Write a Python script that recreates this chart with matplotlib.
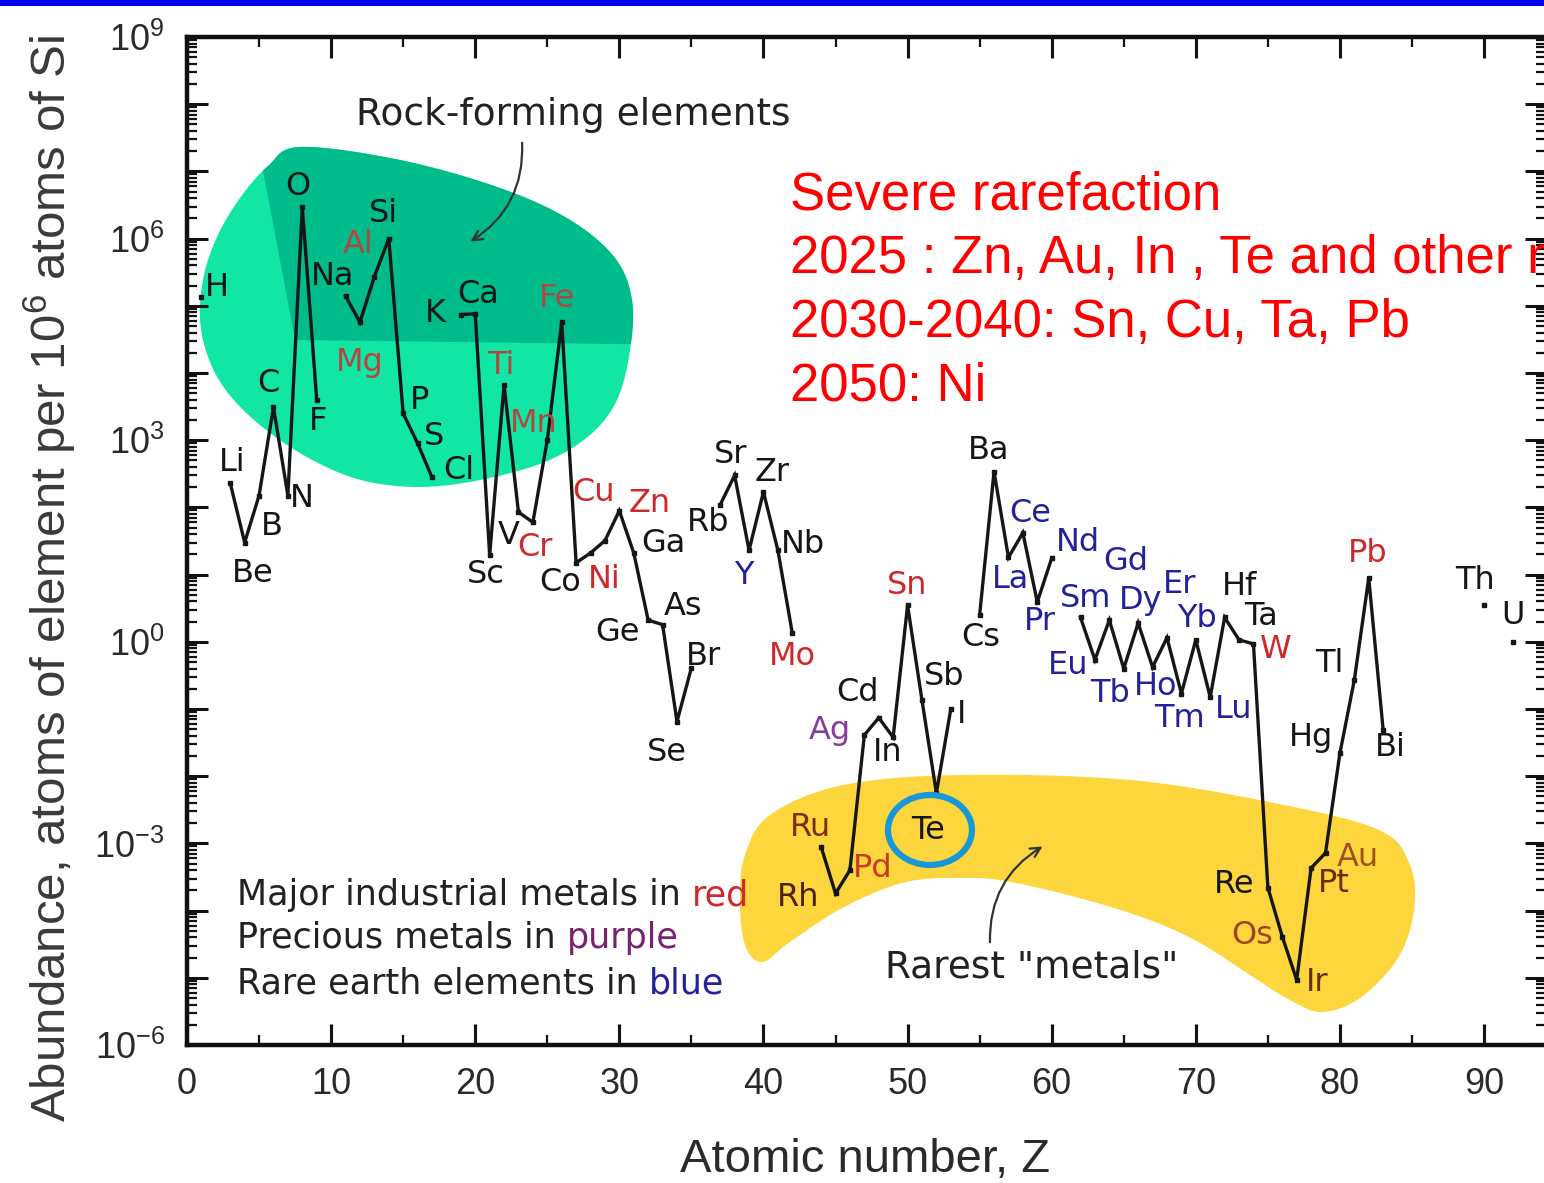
import numpy as np
import matplotlib
matplotlib.use("Agg")
import matplotlib.pyplot as plt
from matplotlib.path import Path
from matplotlib.patches import PathPatch, Ellipse, Rectangle, Polygon
from matplotlib.ticker import (LogLocator, MultipleLocator, FuncFormatter,
                               NullFormatter)
from matplotlib import font_manager

# ---------------------------------------------------------------------------
# Abundance of the elements in the upper continental crust
# (atoms of element per 10^6 atoms of Si)
# ---------------------------------------------------------------------------
symbols = ["H", "Li", "Be", "B", "C", "N", "O", "F",
           "Na", "Mg", "Al", "Si", "P", "S", "Cl",
           "K", "Ca", "Sc", "Ti", "V", "Cr", "Mn", "Fe", "Co", "Ni", "Cu",
           "Zn", "Ga", "Ge", "As", "Se", "Br",
           "Rb", "Sr", "Y", "Zr", "Nb", "Mo",
           "Ru", "Rh", "Pd", "Ag", "Cd", "In", "Sn", "Sb", "Te", "I",
           "Cs", "Ba", "La", "Ce", "Pr", "Nd",
           "Sm", "Eu", "Gd", "Tb", "Dy", "Ho", "Er", "Tm", "Yb", "Lu",
           "Hf", "Ta", "W", "Re", "Os", "Ir", "Pt", "Au", "Hg", "Tl", "Pb", "Bi",
           "Th", "U"]
atomic_number = [1, 3, 4, 5, 6, 7, 8, 9,
                 11, 12, 13, 14, 15, 16, 17,
                 19, 20, 21, 22, 23, 24, 25, 26, 27, 28, 29,
                 30, 31, 32, 33, 34, 35,
                 37, 38, 39, 40, 41, 42,
                 44, 45, 46, 47, 48, 49, 50, 51, 52, 53,
                 55, 56, 57, 58, 59, 60,
                 62, 63, 64, 65, 66, 67, 68, 69, 70, 71,
                 72, 73, 74, 75, 76, 77, 78, 79, 80, 81, 82, 83,
                 90, 92]
abundance = [1.35e5, 230, 30, 150, 3100, 150, 2.95e6, 4000,
             1.4e5, 5.7e4, 2.7e5, 1.0e6, 2500, 900, 280,
             7.4e4, 7.6e4, 19.5, 6600, 85, 60, 1000, 5.7e4, 15, 21, 32,
             89, 21, 2.1, 1.8, 0.065, 0.41,
             110, 300, 23, 170, 23, 1.35,
             8.9e-4, 1.8e-4, 4.0e-4, 0.041, 0.074, 0.038, 3.5, 0.135, 5.6e-3, 0.10,
             2.5, 340, 18, 42, 3.9, 17.5,
             2.3, 0.54, 2.1, 0.40, 1.9, 0.42, 1.15, 0.17, 1.07, 0.15,
             2.3, 1.07, 0.93, 2.2e-4, 4.1e-5, 9.3e-6, 4.3e-4, 7.2e-4, 0.022, 0.27, 8.9, 0.049,
             3.5, 1.0]

industrial_metals = ["Mg", "Al", "Ti", "Cr", "Mn", "Fe", "Ni", "Cu", "Zn",
                     "Mo", "Sn", "W", "Pb"]
precious_metals = ["Ru", "Rh", "Pd", "Ag", "Os", "Ir", "Pt", "Au"]
rare_earths = ["Y", "La", "Ce", "Pr", "Nd", "Sm", "Eu", "Gd", "Tb", "Dy",
               "Ho", "Er", "Tm", "Yb", "Lu"]

# label placement around each point (points)
label_offsets = {
    "H": (11, 7), "Li": (1.5, 15), "Be": (6, -22), "B": (9, -22), "C": (-4, 17),
    "N": (10, -2), "O": (-3, 15), "F": (1, -16), "Na": (-9, 14), "Mg": (0, -29),
    "Al": (-12, 23), "Si": (-4, 18), "P": (11.5, 9), "S": (11.5, 5), "Cl": (19, 5),
    "K": (-18, 1), "Ca": (2, 14), "Sc": (-3, -14), "Ti": (-2, 14), "V": (-7, -17),
    "Cr": (1.5, -18), "Mn": (-10, 12), "Fe": (-3, 17), "Co": (-11.5, -14),
    "Ni": (10, -19), "Cu": (-8, 35), "Zn": (22, 5), "Ga": (21, 7), "Ge": (-22, -9),
    "As": (15, 13), "Se": (-7, -22), "Br": (9, 8), "Rb": (-9, -13), "Sr": (-3, 15),
    "Y": (-4, -18), "Zr": (6, 14), "Nb": (18, 4), "Mo": (0, -17), "Ru": (-8, 14),
    "Rh": (-27, -3), "Pd": (16.5, 1.5), "Ag": (-25, 3), "Cd": (-15, 18),
    "In": (-3.6, -11), "Sn": (0, 14), "Sb": (16, 17), "Te": (-6, -27), "I": (8, -4),
    "Cs": (1, -16), "Ba": (-4, 15), "La": (1.5, -16), "Ce": (5, 14), "Pr": (2, -14),
    "Nd": (19, 11.5), "Sm": (3.6, 14), "Eu": (-19, -4), "Gd": (11.5, 42),
    "Tb": (-10, -18), "Dy": (1.5, 16), "Ho": (2, -14), "Er": (9, 38),
    "Tm": (-1.5, -18), "Yb": (0.7, 15), "Lu": (17, -9), "Hf": (11, 22),
    "Ta": (16, 17), "W": (16, -4), "Re": (-24.5, 2), "Os": (-22, 0.7),
    "Ir": (15, -2), "Pt": (16.5, -11), "Au": (23, -3), "Hg": (-21, 11.5),
    "Tl": (-18, 12), "Pb": (-0.7, 18), "Bi": (5, -13), "Th": (-6.5, 18), "U": (0, 19),
}

# ---------------------------------------------------------------------------
# colours and fonts
# ---------------------------------------------------------------------------
INK = "#161616"
RED = "#d02828"
PURPLE = "#8a3c9c"
BLUE = "#22229a"
GREEN_LIGHT = "#12e6a4"
GREEN_DARK = "#00bb8a"
YELLOW = "#fcd63c"
TE_RING = "#1898d8"

# label tints for names sitting on the highlight areas
tinted = {"Mg": "#b04840", "Al": "#b04840", "Ti": "#b04840", "Mn": "#b04840",
          "Fe": "#b04840", "Ru": "#7a2e12", "Rh": "#4a2010", "Pd": "#c83a22",
          "Os": "#a0461e", "Ir": "#6a2c10", "Pt": "#6a2c10", "Au": "#a0521e"}

installed = {f.name for f in font_manager.fontManager.ttflist}
ARIAL = "Liberation Sans" if "Liberation Sans" in installed else "DejaVu Sans"

plt.rcParams["font.family"] = ["DejaVu Sans"]

LABEL_SIZE = 23


def label_color(sym):
    if sym in tinted:
        return tinted[sym]
    if sym in industrial_metals:
        return RED
    if sym in precious_metals:
        return PURPLE
    if sym in rare_earths:
        return BLUE
    return INK


def smooth_closed(pts, n=24):
    """Closed Catmull-Rom curve through the given vertices."""
    pts = np.asarray(pts, float)
    m = len(pts)
    t = np.linspace(0, 1, n, endpoint=False)[:, None]
    segs = []
    for i in range(m):
        p0, p1, p2, p3 = pts[i - 1], pts[i], pts[(i + 1) % m], pts[(i + 2) % m]
        segs.append(0.5 * (2 * p1 + (-p0 + p2) * t
                           + (2 * p0 - 5 * p1 + 4 * p2 - p3) * t ** 2
                           + (-p0 + 3 * p1 - 3 * p2 + p3) * t ** 3))
    return np.vstack(segs)


# ---------------------------------------------------------------------------
# figure
# ---------------------------------------------------------------------------
W, H = 1544, 1183
fig = plt.figure(figsize=(W / 100, H / 100), dpi=100)
fig.patch.set_facecolor("white")
ax = fig.add_axes([187 / W, 1 - 1045 / H, 1359 / W, 1008 / H])

# highlighted areas (axes fraction)
rock_outline = [(0.0832, 0.8909), (0.1567, 0.8780), (0.2303, 0.8502), (0.2818, 0.8185),
                (0.3149, 0.7808), (0.3274, 0.7391), (0.3260, 0.6895), (0.3164, 0.6399),
                (0.2965, 0.6052), (0.2634, 0.5784), (0.2156, 0.5605), (0.1715, 0.5536),
                (0.1310, 0.5595), (0.0964, 0.5774), (0.0611, 0.6071), (0.0331, 0.6419),
                (0.0169, 0.6776), (0.0096, 0.7192), (0.0125, 0.7639), (0.0228, 0.8036),
                (0.0390, 0.8403), (0.0596, 0.8720)]
rock_upper = [(0.0464, 0.9375), (0.3775, 0.9375), (0.3775, 0.6944),
              (0.0795, 0.6994), (0.0552, 0.8730), (0.0464, 0.8978)]
rare_outline = [(0.4069, 0.1438), (0.4106, 0.1885), (0.4290, 0.2282), (0.4827, 0.2579),
                (0.5710, 0.2679), (0.6939, 0.2629), (0.7999, 0.2401), (0.8771, 0.2133),
                (0.8999, 0.1786), (0.9029, 0.1339), (0.8911, 0.0863), (0.8631, 0.0466),
                (0.8352, 0.0327), (0.8116, 0.0446), (0.7822, 0.0694), (0.7454, 0.1012),
                (0.7086, 0.1240), (0.6593, 0.1448), (0.6063, 0.1617), (0.5747, 0.1657),
                (0.5291, 0.1617), (0.4834, 0.1369), (0.4437, 0.1022), (0.4231, 0.0823),
                (0.4106, 0.0992)]

rock_patch = PathPatch(Path(smooth_closed(rock_outline), closed=True),
                       transform=ax.transAxes, facecolor=GREEN_LIGHT,
                       edgecolor="none", zorder=1)
ax.add_patch(rock_patch)
upper = Polygon(rock_upper, closed=True, transform=ax.transAxes,
                facecolor=GREEN_DARK, edgecolor="none", zorder=1.1)
ax.add_patch(upper)
upper.set_clip_path(rock_patch)

ax.add_patch(PathPatch(Path(smooth_closed(rare_outline), closed=True),
                       transform=ax.transAxes, facecolor=YELLOW,
                       edgecolor="none", zorder=1))

# abundance curve: gaps where an element has no value
z_all = np.arange(1, 93)
y_all = np.full(z_all.size, np.nan)
y_all[np.asarray(atomic_number) - 1] = abundance
ax.plot(z_all, y_all, color=INK, lw=2.4, zorder=3, solid_joinstyle="miter")
ax.plot(atomic_number, abundance, ls="none", marker="s", ms=3.2,
        color=INK, zorder=3)

# element symbols
for sym, z, a in zip(symbols, atomic_number, abundance):
    ax.annotate(sym, (z, a), xytext=label_offsets[sym], textcoords="offset points",
                ha="center", va="center", fontsize=LABEL_SIZE,
                color=label_color(sym), zorder=4)

# ring around tellurium
ax.add_patch(Ellipse((0.5467, 0.2133), 0.0618, 0.0694, transform=ax.transAxes,
                     facecolor="none", edgecolor=TE_RING, lw=4.5, zorder=5))

# annotations
ax.text(0.2840, 0.9226, "Rock-forming elements", transform=ax.transAxes,
        ha="center", va="center", fontsize=27, color="#222222", zorder=5)
ax.annotate("", xy=(0.2068, 0.7956), xytext=(0.2465, 0.8978),
            xycoords="axes fraction", textcoords="axes fraction",
            arrowprops=dict(arrowstyle="->,head_length=0.7,head_width=0.35",
                            color="#333333", lw=1.6,
                            connectionstyle="arc3,rad=-0.3"), zorder=5)
ax.text(0.6218, 0.0764, "Rarest \"metals\"", transform=ax.transAxes,
        ha="center", va="center", fontsize=27, color="#222222", zorder=5)
ax.annotate("", xy=(0.6313, 0.1984), xytext=(0.5909, 0.0992),
            xycoords="axes fraction", textcoords="axes fraction",
            arrowprops=dict(arrowstyle="->,head_length=0.7,head_width=0.35",
                            color="#333333", lw=1.6,
                            connectionstyle="arc3,rad=-0.3"), zorder=5)

# colour key
key_lines = [("Major industrial metals in ", "red", RED),
             ("Precious metals in ", "purple", "#7a2070"),
             ("Rare earth elements in ", "blue", BLUE)]
for (txt, word, col), fy in zip(key_lines, [0.1488, 0.1062, 0.0615]):
    t = ax.text(0.0368, fy, txt, transform=ax.transAxes, ha="left",
                va="center", fontsize=25.2, color="#222222", zorder=5)
    ax.annotate(word, xy=(1, 0), xycoords=t, ha="left", va="bottom",
                fontsize=25.2, color=col, zorder=5)

# axes
ax.set_xlim(0, 94.3)
ax.set_yscale("log")
ax.set_ylim(1e-6, 1e9)
ax.xaxis.set_major_locator(MultipleLocator(10))
ax.xaxis.set_minor_locator(MultipleLocator(5))
ax.yaxis.set_major_locator(LogLocator(base=10, numticks=40))
ax.yaxis.set_minor_locator(LogLocator(base=10, subs=np.arange(2, 10), numticks=40))


def decade_label(v, pos):
    e = int(round(np.log10(v)))
    return r"$\mathregular{10^{%d}}$" % e if e % 3 == 0 else ""


ax.yaxis.set_major_formatter(FuncFormatter(decade_label))
ax.yaxis.set_minor_formatter(NullFormatter())
ax.tick_params(which="both", direction="in", top=True, right=True,
               colors="#111111", labelcolor="#2a2a2a")
ax.tick_params(which="major", length=15, width=2.2)
ax.tick_params(which="minor", length=7, width=1.6)
ax.tick_params(axis="x", which="major", pad=16, labelsize=26,
               labelfontfamily=ARIAL)
ax.tick_params(axis="y", which="major", pad=16, labelsize=26,
               labelfontfamily=ARIAL)
for sp in ax.spines.values():
    sp.set_linewidth(3.2)
    sp.set_color("#111111")

fig.text(865 / W, 1 - 1160 / H, "Atomic number, Z", ha="center", va="center",
         fontsize=34, color="#2a2a2a", family=ARIAL)
fig.text(50 / W, 1 - 578 / H,
         r"Abundance, atoms of element per 10$\mathregular{^{6}}$ atoms of Si",
         rotation=90, ha="center", va="center", fontsize=35.5, color="#3a3a3a",
         family=ARIAL)

# red commentary block
notes = ["Severe rarefaction",
         "2025 : Zn, Au, In , Te and other rare metals",
         "2030-2040: Sn, Cu, Ta, Pb",
         "2050: Ni"]
for i, line in enumerate(notes):
    fig.text(790 / W, 1 - (210 + 63.5 * i) / H, line, ha="left", va="baseline",
             fontsize=38, color="#ff0000", family=ARIAL)

# blue rule across the top
fig.add_artist(Rectangle((0, 1 - 6 / H), 1, 6 / H, transform=fig.transFigure,
                         facecolor="#0000ff", edgecolor="none", zorder=10))

fig.savefig("out.png", dpi=100)
